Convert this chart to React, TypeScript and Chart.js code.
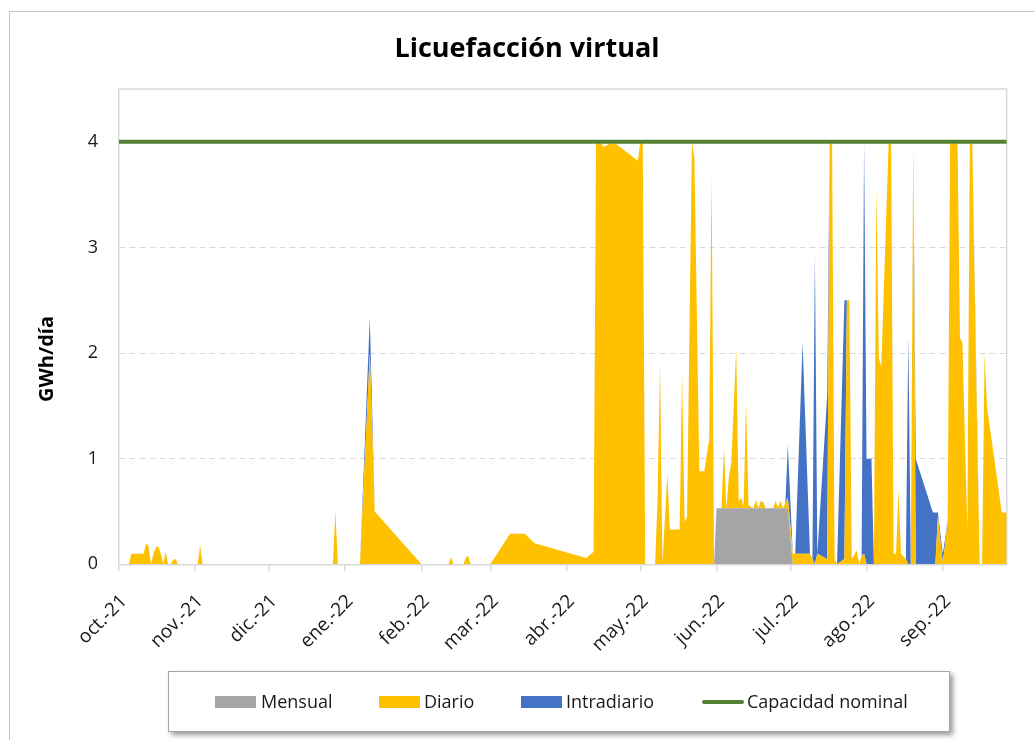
import React, { useEffect, useRef } from 'react';
import { Chart, registerables } from 'chart.js';

Chart.register(...registerables);

// ---------- DATA ----------
const titulo = 'Licuefacción virtual';
const tituloEje = 'GWh/día';

const fechas = [
  '2021-10-01','2021-10-05','2021-10-06','2021-10-11','2021-10-12','2021-10-13','2021-10-14','2021-10-15','2021-10-16','2021-10-17',
  '2021-10-18','2021-10-19','2021-10-20','2021-10-21','2021-10-22','2021-10-23','2021-10-24','2021-10-25','2021-11-02','2021-11-03',
  '2021-11-04','2021-12-27','2021-12-28','2021-12-29','2022-01-07','2022-01-11','2022-01-13','2022-02-01','2022-02-12','2022-02-13',
  '2022-02-14','2022-02-18','2022-02-19','2022-02-20','2022-02-21','2022-03-01','2022-03-09','2022-03-15','2022-03-19','2022-04-09',
  '2022-04-12','2022-04-13','2022-04-15','2022-04-16','2022-04-20','2022-04-30','2022-05-01','2022-05-02','2022-05-03','2022-05-07',
  '2022-05-08','2022-05-09','2022-05-10','2022-05-12','2022-05-13','2022-05-17','2022-05-18','2022-05-19','2022-05-20','2022-05-22',
  '2022-05-23','2022-05-25','2022-05-27','2022-05-29','2022-05-30','2022-05-31','2022-06-01','2022-06-03','2022-06-04','2022-06-05',
  '2022-06-06','2022-06-07','2022-06-09','2022-06-10','2022-06-11','2022-06-12','2022-06-13','2022-06-14','2022-06-16','2022-06-17',
  '2022-06-18','2022-06-19','2022-06-20','2022-06-21','2022-06-24','2022-06-25','2022-06-26','2022-06-27','2022-06-28','2022-06-29',
  '2022-06-30','2022-07-02','2022-07-03','2022-07-06','2022-07-09','2022-07-10','2022-07-11','2022-07-12','2022-07-16','2022-07-17',
  '2022-07-18','2022-07-19','2022-07-20','2022-07-23','2022-07-24','2022-07-25','2022-07-26','2022-07-28','2022-07-29','2022-07-30',
  '2022-07-31','2022-08-01','2022-08-03','2022-08-04','2022-08-05','2022-08-06','2022-08-07','2022-08-10','2022-08-11','2022-08-12',
  '2022-08-13','2022-08-14','2022-08-15','2022-08-17','2022-08-18','2022-08-19','2022-08-20','2022-08-21','2022-08-28','2022-08-29',
  '2022-08-30','2022-09-01','2022-09-02','2022-09-03','2022-09-04','2022-09-07','2022-09-08','2022-09-09','2022-09-11','2022-09-12',
  '2022-09-13','2022-09-14','2022-09-15','2022-09-16','2022-09-17','2022-09-18','2022-09-19','2022-09-25','2022-09-27',
];

const mensual = [
  0,0,0,0,0,0,0,0,0,0,
  0,0,0,0,0,0,0,0,0,0,
  0,0,0,0,0,0,0,0,0,0,
  0,0,0,0,0,0,0,0,0,0,
  0,0,0,0,0,0,0,0,0,0,
  0,0,0,0,0,0,0,0,0,0,
  0,0,0,0,0,0,0.53,0.53,0.53,0.53,
  0.53,0.53,0.53,0.53,0.53,0.53,0.53,0.53,0.53,0.53,
  0.53,0.53,0.53,0.53,0.53,0.53,0.53,0.53,0.53,0.53,
  0.53,0,0,0,0,0,0,0,0,0,
  0,0,0,0,0,0,0,0,0,0,
  0,0,0,0,0,0,0,0,0,0,
  0,0,0,0,0,0,0,0,0,0,
  0,0,0,0,0,0,0,0,0,0,
  0,0,0,0,0,0,0,0,0,
];

const diario = [
  0,0,0.1,0.1,0.2,0.17,0,0.1,0.16,0.17,
  0.1,0,0.12,0,0,0.04,0.05,0,0,0.18,
  0,0,0.5,0,0,2,0.5,0,0,0.07,
  0,0,0.06,0.08,0,0,0.29,0.29,0.2,0.06,
  0.12,4,4,3.95,4,3.82,4,4,0,0,
  0.6,1.9,0,0.86,0.33,0.33,1.8,0.4,0.45,4,
  3.85,0.88,0.88,1.18,3.7,0,0,0,0.57,0,
  0.3,0.43,1.52,0.07,0.1,0.02,1.01,0.03,0,0.08,
  0,0.07,0.06,0,0,0.07,0.01,0.07,0,0.05,
  0.1,0.1,0.1,0.1,0.1,0.05,0,0.1,0.05,4,
  4,0.05,0,0.05,2.5,2.5,0.05,0.13,0,0.08,
  0.1,0,0,0,3.58,1.95,1.87,4,4,0.1,
  0.1,0.7,0.1,0.05,0,0,4,0,0,0,
  0.45,0.02,0.2,0.4,4,4,2.14,2.1,0.32,4,
  4,2.57,1.23,0,0,1.99,1.49,0.49,0.49,
];

const intradiario = [
  0,0,0,0,0,0,0,0,0,0,
  0,0,0,0,0,0,0,0,0,0,
  0,0,0,0,0,0.34,0,0,0,0,
  0,0,0,0,0,0,0,0,0,0,
  0,0,0,0,0,0,0,0,0,0,
  0,0,0,0,0,0,0,0,0,0,
  0,0,0,0,0,0,0,0,0,0,
  0,0,0,0,0,0,0,0,0,0,
  0,0,0,0,0,0,0,0,0,0,
  0.5,0,0,2,0,0,2.94,0,1.55,0,
  0,0,0,2.45,0,0,0,0,0,0,
  3.9,1,1,0,0,0,0,0,0,0,
  0,0,0,0,2.16,0,0,1,0.49,0.49,
  0.04,0.08,0.05,0.02,0,0,0,0,0,0,
  0,0.1,0.1,0,0,0,0,0,0,
];

const capacidadFechas = ['2021-10-01', '2022-09-27'];
const capacidad = [4, 4];

const mesesFechas = [
  '2021-10-01','2021-11-01','2021-12-01','2022-01-01','2022-02-01','2022-03-01',
  '2022-04-01','2022-05-01','2022-06-01','2022-07-01','2022-08-01','2022-09-01',
];
const mesesEtiquetas = [
  'oct.-21','nov.-21','dic.-21','ene.-22','feb.-22','mar.-22',
  'abr.-22','may.-22','jun.-22','jul.-22','ago.-22','sep.-22',
];
const yTicks = [0, 1, 2, 3, 4];
const yMax = 4.5;

const series = ['Mensual', 'Diario', 'Intradiario', 'Capacidad nominal'];
const colores = ['#a5a5a5', '#ffc000', '#4472c4', '#548235'];

// ---------- HELPERS ----------
const ORIGEN = Date.UTC(2021, 9, 1);
const toDay = (s: string) => {
  const [y, m, d] = s.split('-').map(Number);
  return Math.round((Date.UTC(y, m - 1, d) - ORIGEN) / 86400000);
};
const pts = (xs: string[], vals: number[]) => xs.map((f, i) => ({ x: toDay(f), y: vals[i] }));

const FONT = "'Open Sans', sans-serif";
const TEXT = '#1a1a1a';
const GRID = '#d9d9d9';

const extras = {
  id: 'extras',
  beforeDatasetsDraw(chart: any) {
    const { ctx, chartArea: a } = chart;
    ctx.save();
    ctx.strokeStyle = GRID;
    ctx.lineWidth = 1.5;
    ctx.beginPath();
    ctx.moveTo(a.left, a.top);
    ctx.lineTo(a.right, a.top);
    ctx.lineTo(a.right, a.bottom);
    ctx.stroke();
    ctx.restore();
  },
  afterDraw(chart: any) {
    const { ctx } = chart;
    ctx.save();
    ctx.translate(47, 359);
    ctx.rotate(-Math.PI / 2);
    ctx.font = `bold 20px ${FONT}`;
    ctx.fillStyle = '#000';
    ctx.textAlign = 'center';
    ctx.textBaseline = 'middle';
    ctx.fillText(tituloEje, 0, 0);
    ctx.restore();
  },
};

export default function App() {
  const ref = useRef<HTMLCanvasElement>(null);

  useEffect(() => {
    Chart.defaults.font.family = FONT;
    const area = (i: number, data: number[], fill: any) => ({
      type: 'line' as const,
      label: series[i],
      data: pts(fechas, data),
      backgroundColor: colores[i],
      borderColor: 'rgba(0,0,0,0)',
      borderWidth: 0,
      pointRadius: 0,
      tension: 0,
      fill,
      stack: 'flujo',
    });
    const chart = new Chart(ref.current!, {
      type: 'line',
      data: {
        datasets: [
          area(0, mensual, 'origin'),
          area(1, diario, '-1'),
          area(2, intradiario, '-1'),
          {
            type: 'line',
            label: series[3],
            data: pts(capacidadFechas, capacidad),
            borderColor: colores[3],
            backgroundColor: colores[3],
            borderWidth: 4,
            pointRadius: 0,
            fill: false,
            stack: 'cap',
            order: -1,
          },
        ] as any,
      },
      options: {
        animation: false,
        responsive: false,
        events: [],
        layout: { padding: { left: 47.3, right: 27.3, top: 0, bottom: 0 } },
        plugins: {
          legend: { display: false },
          tooltip: { enabled: false },
          title: {
            display: true,
            text: titulo,
            color: '#000',
            font: { family: FONT, size: 27, weight: 'bold' },
            padding: { top: 33, bottom: 23.6 },
          },
        },
        scales: {
          x: {
            type: 'linear',
            min: toDay(fechas[0]),
            max: toDay(fechas[fechas.length - 1]),
            afterBuildTicks: (s: any) => {
              s.ticks = mesesFechas.map((f) => ({ value: toDay(f) }));
            },
            afterFit: (s: any) => {
              s.height = 175.7;
            },
            ticks: {
              autoSkip: false,
              minRotation: 45,
              maxRotation: 45,
              padding: 19,
              labelOffset: 5,
              color: TEXT,
              font: { family: FONT, size: 19 },
              callback: (_v: any, i: number) => mesesEtiquetas[i],
            },
            grid: { drawOnChartArea: false, drawTicks: true, tickLength: 7, color: GRID, lineWidth: 1.5 },
            border: { color: GRID, width: 1.5 },
          },
          y: {
            stacked: true,
            min: 0,
            max: yMax,
            afterBuildTicks: (s: any) => {
              s.ticks = yTicks.map((v) => ({ value: v }));
            },
            afterFit: (s: any) => {
              s.width = 71.7;
            },
            ticks: { color: TEXT, font: { family: FONT, size: 18 }, padding: 21 },
            grid: { color: GRID, lineWidth: 1, drawTicks: false },
            border: { color: GRID, width: 1.5, dash: [6, 4] },
          },
        },
      } as any,
      plugins: [extras],
    });
    return () => chart.destroy();
  }, []);

  const legendItems = [
    { x: 215, tx: 261, kind: 'box' },
    { x: 379, tx: 424, kind: 'box' },
    { x: 521, tx: 566, kind: 'box' },
    { x: 702, tx: 747, kind: 'line' },
  ];

  return (
    <div
      style={{
        position: 'fixed',
        left: 0,
        top: 0,
        width: 1034,
        height: 740,
        overflow: 'hidden',
        background: '#fff',
      }}
    >
      <div
        style={{
          position: 'absolute',
          left: 9,
          top: 11,
          width: 1100,
          height: 800,
          border: '1px solid #c4c4c4',
        }}
      />
      <canvas ref={ref} width={1034} height={740} style={{ position: 'absolute', left: 0, top: 0, display: 'block' }} />
      <div
        style={{
          position: 'absolute',
          left: 168,
          top: 671,
          width: 782,
          height: 61,
          boxSizing: 'border-box',
          border: '1.5px solid #a6a6a6',
          boxShadow: '3px 3px 5px rgba(0,0,0,0.4)',
          background: '#fff',
        }}
      />
      {legendItems.map((it, i) => (
        <React.Fragment key={series[i]}>
          <div
            style={{
              position: 'absolute',
              left: it.x,
              top: it.kind === 'box' ? 696 : 700,
              width: it.kind === 'box' ? 41 : 42,
              height: it.kind === 'box' ? 12 : 4,
              borderRadius: it.kind === 'box' ? 0 : 2,
              background: colores[i],
            }}
          />
          <div
            style={{
              position: 'absolute',
              left: it.tx,
              top: 689,
              fontFamily: FONT,
              fontSize: 18,
              lineHeight: '24px',
              color: TEXT,
              whiteSpace: 'nowrap',
            }}
          >
            {series[i]}
          </div>
        </React.Fragment>
      ))}
    </div>
  );
}
